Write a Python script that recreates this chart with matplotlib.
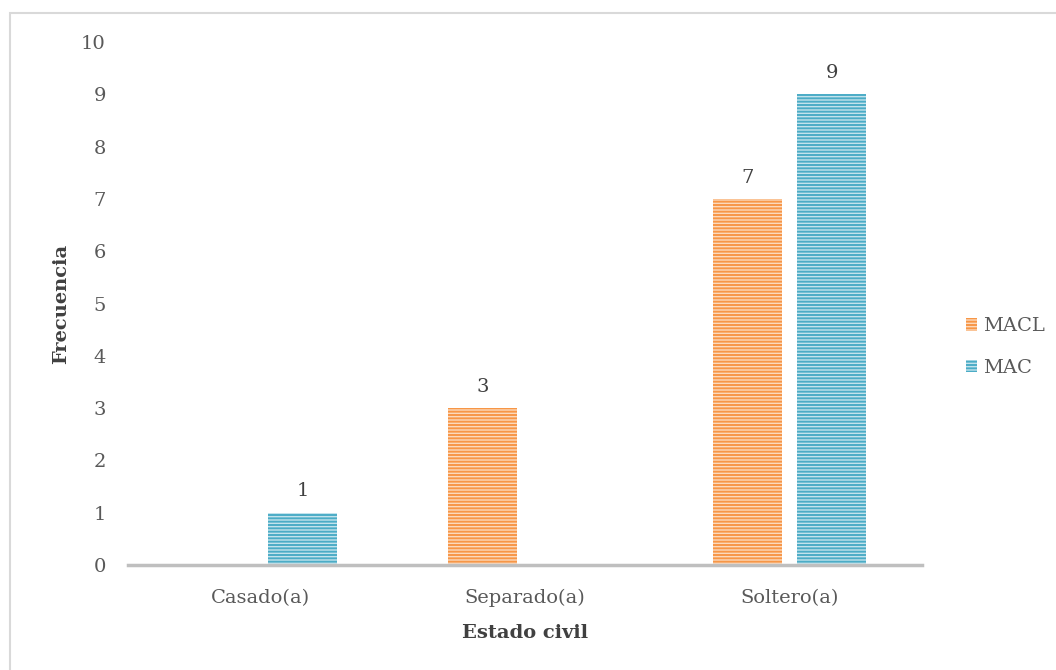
import numpy as np
import matplotlib.pyplot as plt
from matplotlib.patches import Rectangle

categories = ['Casado(a)', 'Separado(a)', 'Soltero(a)']
macl = [0, 3, 7]
mac = [1, 0, 9]
yticks = list(range(0, 11))

plt.rcParams['font.family'] = ['DejaVu Serif']
plt.rcParams['hatch.linewidth'] = 1.4

orange_face = '#FCD9BC'
orange_line = '#F79646'
teal_face = '#C3E3EC'
teal_line = '#4BACC6'
text_col = '#595959'

fig = plt.figure(figsize=(10.56, 6.7), dpi=100)
ax = fig.add_axes([0.1212, 0.1567, 0.873 - 0.1212, 0.937 - 0.1567])

# light frame around the chart area (right and bottom edges fall outside)
fig.patches.append(Rectangle((10 / 1056, -0.2), 1.2, 1.2 - 13 / 670, transform=fig.transFigure,
                             fill=False, edgecolor='#D9D9D9', linewidth=1.5))

x = np.arange(len(categories))
w = 0.26
off = 0.159

b1 = ax.bar(x - off, macl, w, color=orange_face, edgecolor=orange_line, hatch='-----',
            linewidth=0, label='MACL')
b2 = ax.bar(x + off, mac, w, color=teal_face, edgecolor=teal_line, hatch='-----',
            linewidth=0, label='MAC')

for bars, vals in [(b1, macl), (b2, mac)]:
    for rect, v in zip(bars, vals):
        if v > 0:
            ax.annotate(str(v), (rect.get_x() + rect.get_width() / 2, v),
                        xytext=(0, 9), textcoords='offset points', ha='center', va='bottom',
                        fontsize=14, color='#404040')

ax.set_xlim(-0.5, 2.5)
ax.set_ylim(0, 10)
ax.set_yticks(yticks)
ax.set_xticks(x)
ax.set_xticklabels(categories)
ax.tick_params(axis='both', length=0, labelsize=14, labelcolor=text_col)
ax.tick_params(axis='y', pad=16)
ax.tick_params(axis='x', pad=17)

for s in ['top', 'right', 'left']:
    ax.spines[s].set_visible(False)
ax.spines['bottom'].set_color('#BFBFBF')
ax.spines['bottom'].set_linewidth(2.5)

ax.set_xlabel('Estado civil', fontsize=14, fontweight='bold', color='#404040', labelpad=12)
ax.set_ylabel('Frecuencia', fontsize=14, fontweight='bold', color='#404040', labelpad=8)

leg = ax.legend(loc='center left', bbox_to_anchor=(1.033, 0.417), frameon=False, fontsize=14,
                handlelength=0.6, handleheight=0.6, handletextpad=0.3, labelspacing=1.2,
                labelcolor=text_col)

fig.savefig('out.png', dpi=100)
